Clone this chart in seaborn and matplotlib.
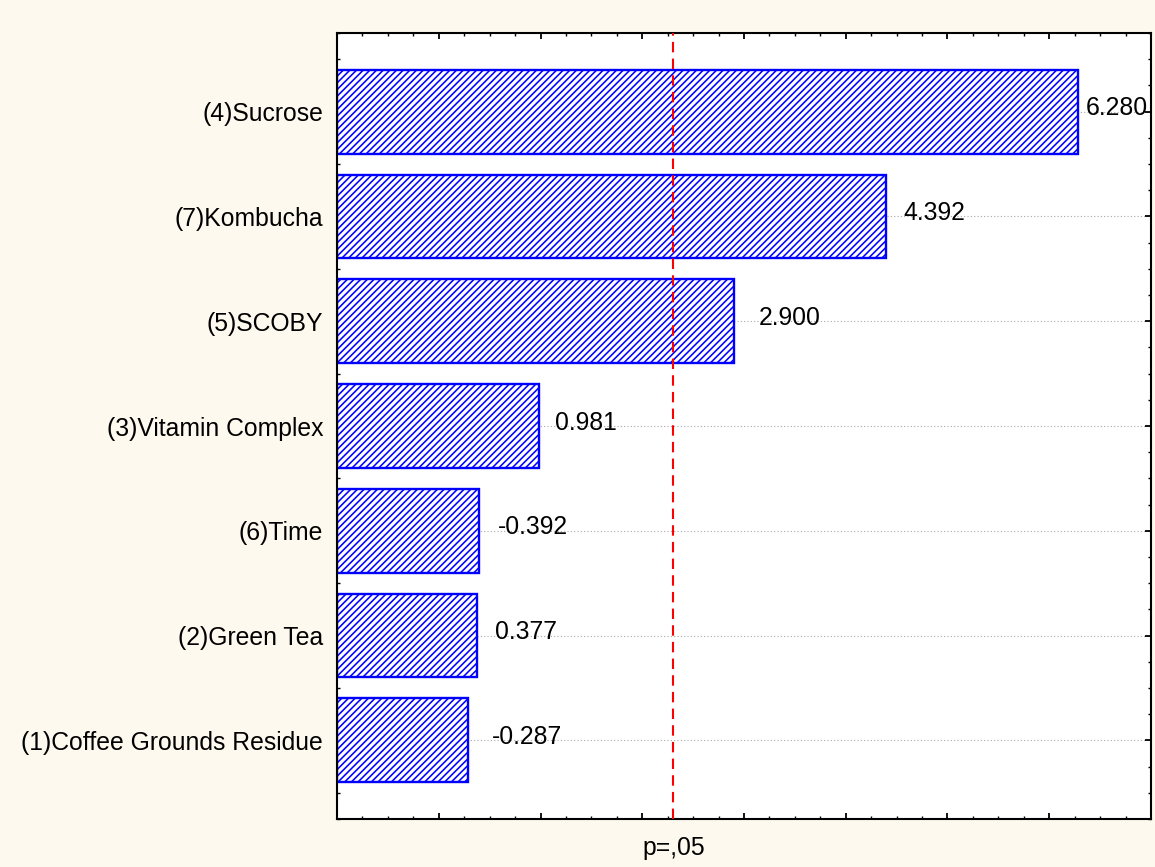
import matplotlib
matplotlib.use("Agg")
import matplotlib.pyplot as plt
from matplotlib.ticker import MultipleLocator, NullFormatter
import pandas as pd
import seaborn as sns

# Standardized effects, ordered by magnitude (Pareto order)
factors = [
    "(4)Sucrose",
    "(7)Kombucha",
    "(5)SCOBY",
    "(3)Vitamin Complex",
    "(6)Time",
    "(2)Green Tea",
    "(1)Coffee Grounds Residue",
]
effects = [6.280, 4.392, 2.900, 0.981, -0.392, 0.377, -0.287]
t_critical = 2.306
p_label = "p=,05"
x_range = (-1, 7)

# Horizontal gap (points) between each bar end and its value label
label_pads = [5.8, 12.7, 18.0, 12.0, 14.0, 13.0, 17.0]

FS = 17.8

sns.set_theme(style="white")
plt.rcParams["font.family"] = ["Liberation Sans", "DejaVu Sans"]
plt.rcParams["text.color"] = "black"
plt.rcParams["hatch.color"] = "#3f3fff"
plt.rcParams["hatch.linewidth"] = 1.15

df = pd.DataFrame({"factor": factors, "effect": effects})
df["abs_effect"] = df["effect"].abs()

fig = plt.figure(figsize=(11.55, 8.67), dpi=100, facecolor="#fdf9ee")
ax = fig.add_axes([0.2918, 0.0554, 0.9965 - 0.2918, 0.9619 - 0.0554])
ax.set_facecolor("white")

sns.barplot(
    data=df, x="abs_effect", y="factor", orient="h", order=factors,
    color="white", saturation=1, edgecolor="#0000ff", linewidth=1.7,
    hatch="/////", width=0.8, ax=ax, zorder=2,
)

# Bars grow from the left edge of the axis, ending at |effect|
for bar in ax.patches:
    right = bar.get_x() + bar.get_width()
    bar.set_x(x_range[0])
    bar.set_width(right - x_range[0])

ax.set_xlim(*x_range)
ax.set_ylim(len(factors) - 0.25, -0.75)

# Significance threshold
ax.axvline(t_critical, color="#ff0000", lw=1.5, ls=(0, (5, 3)), zorder=3)
ax.annotate(p_label, xy=(t_critical, 0), xycoords=("data", "axes fraction"),
            xytext=(0, -21), textcoords="offset points", color="black",
            ha="center", va="center", fontsize=FS, annotation_clip=False)

# Value labels
for i, (v, pad) in enumerate(zip(effects, label_pads)):
    ax.annotate(f"{v:.3f}", xy=(abs(v), i), xytext=(pad, 2.5),
                textcoords="offset points", ha="left", va="center",
                fontsize=FS, color="black", zorder=4)

# Axes styling
ax.set_xlabel("")
ax.set_ylabel("")
ax.xaxis.set_major_locator(MultipleLocator(1))
ax.xaxis.set_minor_locator(MultipleLocator(0.25))
ax.xaxis.set_major_formatter(NullFormatter())
ax.yaxis.set_minor_locator(MultipleLocator(0.25))
ax.tick_params(which="both", direction="in", top=True, right=True,
               bottom=True, left=True, color="black")
ax.tick_params(which="major", length=4, width=1.3)
ax.tick_params(which="minor", length=2.5, width=1.0)
ax.tick_params(axis="y", which="major", labelsize=FS, pad=10, labelcolor="black")

ax.set_axisbelow(True)
ax.grid(axis="y", which="major", ls=(0, (1, 2)), color="#a8a8a8", lw=0.8)
ax.grid(axis="x", visible=False)

for spine in ax.spines.values():
    spine.set_visible(True)
    spine.set_color("black")
    spine.set_linewidth(1.5)

fig.savefig("out.png", dpi=100, facecolor=fig.get_facecolor())
